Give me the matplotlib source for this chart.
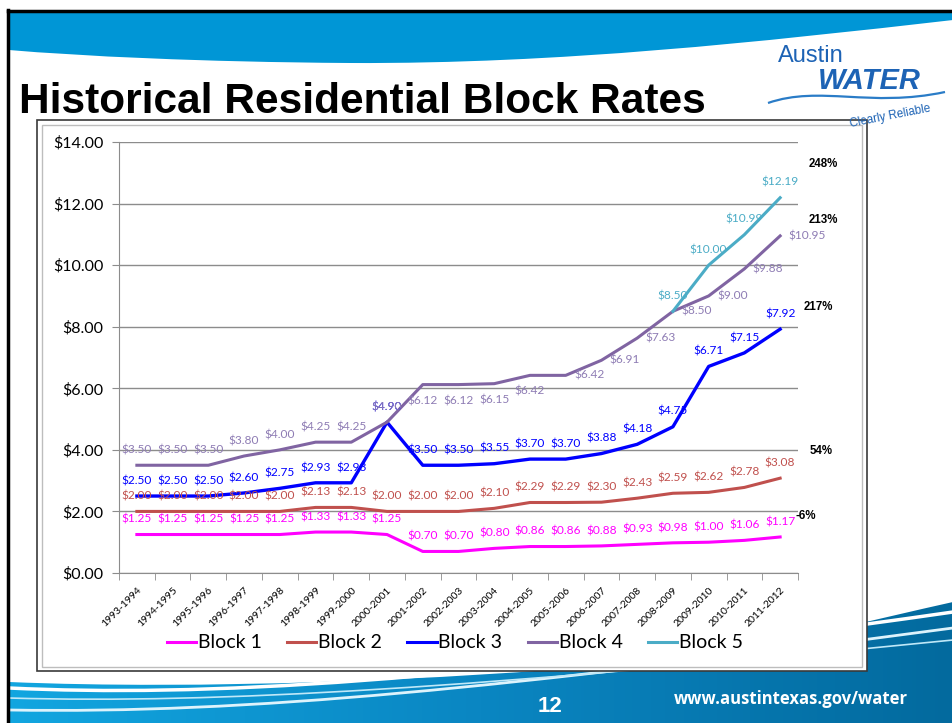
import numpy as np
import matplotlib
matplotlib.use("Agg")
import matplotlib.pyplot as plt
from matplotlib.patches import Rectangle, PathPatch
from matplotlib.path import Path
from matplotlib.colors import LinearSegmentedColormap

# ---------------- data ----------------
years = ["1993-1994", "1994-1995", "1995-1996", "1996-1997", "1997-1998", "1998-1999",
         "1999-2000", "2000-2001", "2001-2002", "2002-2003", "2003-2004", "2004-2005",
         "2005-2006", "2006-2007", "2007-2008", "2008-2009", "2009-2010", "2010-2011",
         "2011-2012"]
block1 = [1.25, 1.25, 1.25, 1.25, 1.25, 1.33, 1.33, 1.25, 0.70, 0.70, 0.80, 0.86, 0.86,
          0.88, 0.93, 0.98, 1.00, 1.06, 1.17]
block2 = [2.00, 2.00, 2.00, 2.00, 2.00, 2.13, 2.13, 2.00, 2.00, 2.00, 2.10, 2.29, 2.29,
          2.30, 2.43, 2.59, 2.62, 2.78, 3.08]
block3 = [2.50, 2.50, 2.50, 2.60, 2.75, 2.93, 2.93, 4.90, 3.50, 3.50, 3.55, 3.70, 3.70,
          3.88, 4.18, 4.75, 6.71, 7.15, 7.92]
block4 = [3.50, 3.50, 3.50, 3.80, 4.00, 4.25, 4.25, 4.90, 6.12, 6.12, 6.15, 6.42, 6.42,
          6.91, 7.63, 8.50, 9.00, 9.88, 10.95]
block5 = [None, None, None, None, None, None, None, None, None, None, None, None, None,
          None, None, 8.50, 10.00, 10.99, 12.19]
series_names = ["Block 1", "Block 2", "Block 3", "Block 4", "Block 5"]
pct_labels = ["248%", "213%", "217%", "54%", "-6%"]

label_font = ["Lato", "DejaVu Sans"]
arial = ["Liberation Sans", "DejaVu Sans"]

W, H = 953, 723
fig = plt.figure(figsize=(W / 100, H / 100), dpi=100)
fig.patch.set_facecolor("white")

# ---------------- slide background (pixel coords) ----------------
bg = fig.add_axes([0, 0, 1, 1], zorder=-5)
bg.set_xlim(0, W)
bg.set_ylim(H, 0)
bg.axis("off")

# top wave
top_path = Path([(9, 12), (953, 12), (953, 20),
                 (760, 42), (560, 64), (350, 63),
                 (200, 62), (80, 56), (9, 50), (9, 12)],
                [Path.MOVETO, Path.LINETO, Path.LINETO,
                 Path.CURVE4, Path.CURVE4, Path.CURVE4,
                 Path.CURVE4, Path.CURVE4, Path.CURVE4, Path.CLOSEPOLY])
bg.add_patch(PathPatch(top_path, facecolor="#0096D6", edgecolor="none"))

# bottom wave with gradient
bot_path = Path([(9, 723), (9, 682),
                 (200, 690), (450, 680), (620, 664),
                 (760, 650), (880, 618), (953, 602),
                 (953, 723), (9, 723)],
                [Path.MOVETO, Path.LINETO,
                 Path.CURVE4, Path.CURVE4, Path.CURVE4,
                 Path.CURVE4, Path.CURVE4, Path.CURVE4,
                 Path.LINETO, Path.CLOSEPOLY])
bot_patch = PathPatch(bot_path, facecolor="none", edgecolor="none")
bg.add_patch(bot_patch)
grad = np.linspace(0, 1, 256).reshape(1, -1)
cm = LinearSegmentedColormap.from_list("g", ["#12A6E0", "#0A86C2", "#036A9E"])
im = bg.imshow(grad, extent=[9, 953, 723, 595], cmap=cm, aspect="auto", zorder=0)
im.set_clip_path(bot_patch)
for pts, lw, col in [
    ([(9, 688), (200, 697), (450, 684), (953, 612)], 2.5, "white"),
    ([(9, 710), (250, 714), (500, 688), (953, 628)], 2.0, "#DDF3FC"),
    ([(9, 698), (220, 704), (470, 688), (953, 640)], 1.2, "#BFE8F8"),
]:
    p = Path(pts, [Path.MOVETO, Path.CURVE4, Path.CURVE4, Path.CURVE4])
    bg.add_patch(PathPatch(p, facecolor="none", edgecolor=col, lw=lw, zorder=2))

# slide border
bg.plot([8, 8], [10, H], color="black", lw=2.5, zorder=5)
bg.plot([8, W], [11, 11], color="black", lw=2.5, zorder=5)

# chart frame
bg.add_patch(Rectangle((37, 120), 830, 551, facecolor="white", edgecolor="#3a3a3a", lw=1.2, zorder=3))
bg.add_patch(Rectangle((42, 125), 820, 542, facecolor="none", edgecolor="#BDBDBD", lw=1.0, zorder=3))

# title
bg.text(19, 113, "Historical Residential Block Rates", fontsize=30.5,
        fontweight="bold", family=arial, color="black", ha="left", va="baseline", zorder=4)

# logo
logo_blue = "#1D63B5"
bg.text(778, 62, "Austin", fontsize=17, family=arial, color=logo_blue, ha="left",
        va="baseline", zorder=4)
bg.text(818, 89, "WATER", fontsize=21, family=arial, fontweight="bold", style="italic",
        color=logo_blue, ha="left", va="baseline", zorder=4)
wave = Path([(768, 103), (820, 85), (870, 108), (945, 92)],
            [Path.MOVETO, Path.CURVE4, Path.CURVE4, Path.CURVE4])
bg.add_patch(PathPatch(wave, facecolor="none", edgecolor="#2A7CC7", lw=1.6, zorder=4))
bg.text(890, 116, "Clearly Reliable", fontsize=8.5, family=arial, color=logo_blue,
        ha="center", va="center", rotation=11, zorder=4)

# footer text
bg.text(550, 706, "12", fontsize=16, fontweight="bold", family=arial, color="white",
        ha="center", va="center", zorder=4)
bg.text(791, 699, "www.austintexas.gov/water", fontsize=12, fontweight="bold",
        family=["Open Sans", "DejaVu Sans"], color="white", ha="center", va="center", zorder=4)

# ---------------- main chart ----------------
ax = fig.add_axes([119 / W, 1 - 573 / H, (798 - 119) / W, (573 - 142) / H], zorder=2)
ax.set_facecolor("white")
x = np.arange(len(years))

colors = ["#FF00FF", "#C0504D", "#0000FF", "#8064A2", "#4BACC6"]
label_colors = ["#FF00FF", "#C0504D", "#0000FF", "#8E7CB4", "#4BACC6"]
all_series = [block1, block2, block3, block4, block5]

for vals, name, c in zip(all_series, series_names, colors):
    y = np.array([np.nan if v is None else v for v in vals], dtype=float)
    ax.plot(x, y, color=c, lw=2.2 if name != "Block 3" else 2.4, label=name,
            solid_joinstyle="round", zorder=3)

for k, (vals, lc) in enumerate(zip(all_series, label_colors)):
    for i, v in enumerate(vals):
        if v is None:
            continue
        txt = f"${v:.2f}"
        if k == 3 and 8 <= i <= 11:
            off, ha = (0, -11.5), "center"
        elif k == 3 and i >= 12:
            off, ha = (6, 0), "left"
        else:
            off, ha = (0, 11), "center"
        ax.annotate(txt, (i, v), xytext=off, textcoords="offset points", ha=ha,
                    va="center", fontsize=8.6, color=lc, family=label_font,
                    zorder=4, annotation_clip=False)

# percentage annotations (pixel positions converted to axes fraction)
pct_pos = [(823, 164), (823, 220), (818, 307), (821, 451), (806, 516)]
for lab, (px, py) in zip(pct_labels, pct_pos):
    ax.text((px - 119) / (798 - 119), (573 - py) / (573 - 142), lab, transform=ax.transAxes,
            fontsize=8.3, fontweight="bold", family=arial, color="black",
            ha="center", va="center", clip_on=False)

ax.set_xlim(-0.5, len(years) - 0.5)
ax.set_ylim(0, 14)
yt = np.arange(0, 15, 2)
ax.set_yticks(yt)
ax.set_yticklabels([f"${v:.2f}" for v in yt], fontsize=11.5, family=label_font)
ax.yaxis.grid(True, color="#8C8C8C", lw=1.0)
ax.set_axisbelow(True)
ax.set_xticks(x)
ax.set_xticklabels(years, rotation=45, ha="right", rotation_mode="anchor",
                   fontsize=7.5, family=label_font)
ax.set_xticks(np.arange(-0.5, len(years)), minor=True)
ax.tick_params(axis="x", which="major", length=0, pad=9)
ax.tick_params(axis="x", which="minor", length=5, color="#8C8C8C")
ax.tick_params(axis="y", length=5, color="#8C8C8C", pad=6)
for s in ["top", "right"]:
    ax.spines[s].set_visible(False)
for s in ["left", "bottom"]:
    ax.spines[s].set_color("#8C8C8C")

leg = ax.legend(loc="center", bbox_to_anchor=(455 / W, 1 - 643 / H),
                bbox_transform=fig.transFigure, ncol=5, frameon=False,
                prop={"family": label_font, "size": 14}, handlelength=1.5,
                handletextpad=0.1, columnspacing=1.3)
for line in leg.get_lines():
    line.set_linewidth(2.2)

fig.savefig("out.png", dpi=100)
